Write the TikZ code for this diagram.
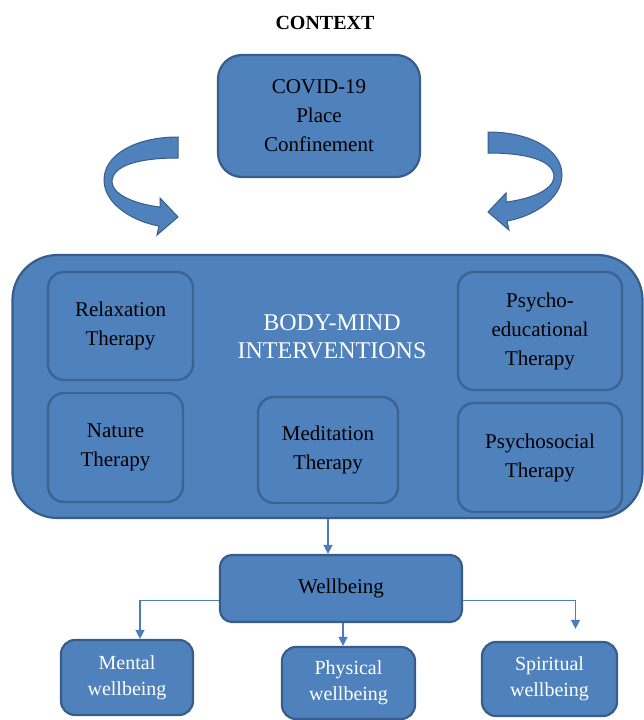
\documentclass[tikz,border=0pt]{standalone}
\usepackage{fontspec}
\setmainfont{Liberation Serif}
\usepackage{tikz}
\usetikzlibrary{arrows.meta, positioning, calc}

\definecolor{boxblue}{HTML}{4F81BD}
\definecolor{edgeblue}{HTML}{385D8A}
\definecolor{inneredge}{HTML}{3D6394}
\definecolor{linkblue}{HTML}{4A7EBB}

\begin{document}
\begin{tikzpicture}[
    x=1pt, y=-1pt,
    outer/.style={
        draw=edgeblue,
        fill=boxblue,
        line width=2.2pt,
        rounded corners=14pt,
        align=center,
        inner sep=0pt,
        font=\fontsize{21}{29}\selectfont
    },
    inner/.style={
        draw=inneredge,
        line width=2.4pt,
        rounded corners=16pt,
        align=center,
        inner sep=0pt,
        font=\fontsize{21}{29}\selectfont
    },
    result/.style={
        outer,
        text=white,
        font=\fontsize{20}{26}\selectfont
    },
    link/.style={
        -{Triangle[length=9pt, width=9pt]},
        line width=1.4pt,
        draw=linkblue
    },
    curvedarrow/.style={
        fill=boxblue,
        draw=edgeblue,
        line width=1pt
    }
]
\useasboundingbox (0,0) rectangle (644,720);

% Nodes
\node (ctx) at (325,23) {\fontsize{20}{24}\selectfont\bfseries CONTEXT};
\node (covid) [outer, rounded corners=24pt, minimum width=202pt, minimum height=122pt] at (319,116) {COVID-19\\Place\\Confinement};

\node (body) [outer, rounded corners=45pt, minimum width=630pt, minimum height=263pt] at (327.5,386.5) {};
\node (title) [text=white, align=center, font=\fontsize{24}{28}\selectfont] at (332,337) {BODY-MIND\\INTERVENTIONS};
\node (relax) [inner, minimum width=145pt, minimum height=108pt] at (120.5,326) {Relaxation\\Therapy};
\node (nature) [inner, minimum width=135pt, minimum height=109pt] at (115.5,447.5) {Nature\\Therapy};
\node (medit) [inner, minimum width=140pt, minimum height=106pt] at (328,450) {Meditation\\Therapy};
\node (psyedu) [inner, minimum width=164pt, minimum height=118pt] at (540,331) {Psycho-\\educational\\Therapy};
\node (psysoc) [inner, minimum width=164pt, minimum height=109pt] at (540,457.5) {Psychosocial\\Therapy};

\node (wellb) [outer, rounded corners=12pt, minimum width=242pt, minimum height=67pt] at (341,588.5) {Wellbeing};
\node (mental) [result, minimum width=132pt, minimum height=75pt] at (127,677.5) {Mental\\wellbeing};
\node (phys) [result, minimum width=133pt, minimum height=72pt] at (348.5,683) {Physical\\wellbeing};
\node (spirit) [result, minimum width=135pt, minimum height=74pt] at (549.5,679) {Spiritual\\wellbeing};

% Curved arrows from the context
\path [curvedarrow] (178,137) .. controls (135,137) and (104,155) .. (104,180)
    .. controls (104,205) and (135,222) .. (159,226)
    -- (157,235) -- (178,217) -- (160,198) -- (160,207)
    .. controls (135,204) and (113,195) .. (112,182)
    .. controls (112,165) and (140,158) .. (178,158) -- cycle;
\begin{scope}[xshift=666pt, xscale=-1, yshift=5pt]
\path [curvedarrow] (178,137) .. controls (135,137) and (104,155) .. (104,180)
    .. controls (104,205) and (135,222) .. (159,226)
    -- (157,235) -- (178,217) -- (160,198) -- (160,207)
    .. controls (135,204) and (113,195) .. (112,182)
    .. controls (112,165) and (140,158) .. (178,158) -- cycle;
\end{scope}

% Paths
\draw [link] (body.south -| 328,0) -- (wellb.north -| 328,0);
\draw [link] ([yshift=-12pt]wellb.west) -| ([xshift=13pt]mental.north);
\draw [link] (wellb.south -| 343,0) -- (phys.north -| 343,0);
\draw [link] ([yshift=-12pt]wellb.east) -| ([xshift=26pt, yshift=12pt]spirit.north);

\end{tikzpicture}
\end{document}
